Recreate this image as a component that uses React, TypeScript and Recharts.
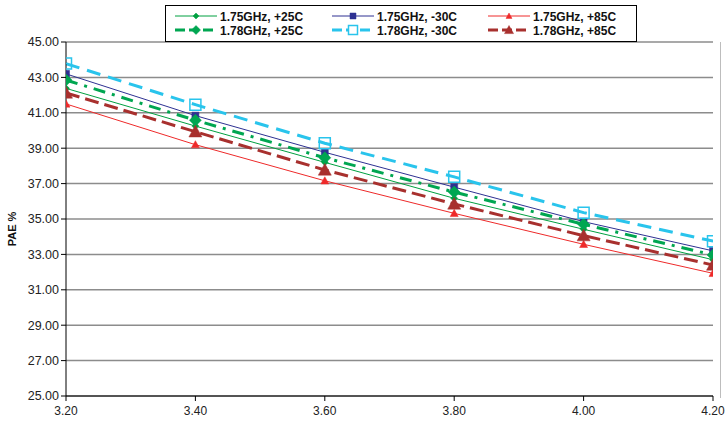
import React from "react";
import { LineChart, Line, XAxis, YAxis, CartesianGrid } from "recharts";

const vdd = [3.2, 3.4, 3.6, 3.8, 4.0, 4.2];
const s175p25 = [42.38, 40.25, 38.2, 36.17, 34.42, 32.7];
const s175m30 = [43.2, 40.84, 38.77, 36.8, 34.85, 33.2];
const s175p85 = [41.5, 39.2, 37.16, 35.32, 33.57, 31.93];
const s178p25 = [42.85, 40.58, 38.46, 36.52, 34.7, 32.97];
const s178m30 = [43.78, 41.46, 39.28, 37.38, 35.36, 33.75];
const s178p85 = [42.12, 39.93, 37.77, 35.85, 34.06, 32.4];
const xTicks = [3.2, 3.4, 3.6, 3.8, 4.0, 4.2];
const yTicks = [25, 27, 29, 31, 33, 35, 37, 39, 41, 43, 45];

const data = vdd.map((x, i) => ({
  x,
  a: s175p25[i],
  b: s175m30[i],
  c: s175p85[i],
  d: s178p25[i],
  e: s178m30[i],
  f: s178p85[i],
}));

type Mk = { shape: "diamond" | "square" | "triangle"; size: number; color: string; hollow?: boolean };

const markerPath = (shape: string, cx: number, cy: number, s: number) => {
  const h = s / 2;
  if (shape === "diamond") return `M${cx},${cy - h}L${cx + h},${cy}L${cx},${cy + h}L${cx - h},${cy}Z`;
  if (shape === "square") return `M${cx - h},${cy - h}L${cx + h},${cy - h}L${cx + h},${cy + h}L${cx - h},${cy + h}Z`;
  return `M${cx},${cy - h}L${cx + h},${cy + h * 0.8}L${cx - h},${cy + h * 0.8}Z`;
};

const makeDot = (m: Mk) => (props: any) => {
  const { cx, cy, index } = props;
  if (cx == null || cy == null) return <g key={index} />;
  return (
    <g key={index}>
      <path
        d={markerPath(m.shape, cx, cy, m.size)}
        fill={m.hollow ? "none" : m.color}
        stroke={m.color}
        strokeWidth={m.hollow ? 1.5 : 0.5}
      />
      {m.hollow ? <circle cx={cx} cy={cy} r={1} fill={m.color} /> : null}
    </g>
  );
};

const series = [
  { key: "a", name: "1.75GHz, +25C", color: "#00a040", width: 1, dash: undefined, mk: { shape: "diamond", size: 7, color: "#00a040" } },
  { key: "b", name: "1.75GHz, -30C", color: "#2e3192", width: 1, dash: undefined, mk: { shape: "square", size: 7, color: "#2e3192" } },
  { key: "c", name: "1.75GHz, +85C", color: "#ee2a2a", width: 1, dash: undefined, mk: { shape: "triangle", size: 8, color: "#ee2a2a" } },
  { key: "d", name: "1.78GHz, +25C", color: "#00a651", width: 3, dash: "12 7 3 7", mk: { shape: "diamond", size: 12, color: "#00a651" } },
  { key: "e", name: "1.78GHz, -30C", color: "#29c4ec", width: 3, dash: "14 8", mk: { shape: "square", size: 11, color: "#29c4ec", hollow: true } },
  { key: "f", name: "1.78GHz, +85C", color: "#a8302e", width: 3, dash: "14 6", mk: { shape: "triangle", size: 13, color: "#a8302e" } },
] as { key: string; name: string; color: string; width: number; dash?: string; mk: Mk }[];

const legendOrder = [0, 1, 2, 3, 4, 5];
const colX = [10, 167, 323];

const LegendBox = () => (
  <svg width={472} height={37} style={{ display: "block" }}>
    <rect x={0.5} y={0.5} width={471} height={36} fill="#fff" stroke="#000" strokeWidth={1} />
    {legendOrder.map((si, k) => {
      const s = series[si];
      const col = k % 3;
      const row = Math.floor(k / 3);
      const x0 = colX[col];
      const y = row === 0 ? 11 : 25;
      return (
        <g key={s.key}>
          <line x1={x0} x2={x0 + 42} y1={y} y2={y} stroke={s.color} strokeWidth={s.width} strokeDasharray={s.dash ? "10 4" : undefined} />
          <path
            d={markerPath(s.mk.shape, x0 + 21, y, s.width > 1 ? 9 : 6)}
            fill={s.mk.hollow ? "#fff" : s.color}
            stroke={s.color}
            strokeWidth={s.mk.hollow ? 1.5 : 0.5}
          />
          <text x={x0 + 45} y={y + 4.5} fontSize={12} fontWeight="bold" fontFamily="Liberation Sans, Arial, sans-serif" fill="#111">
            {s.name}
          </text>
        </g>
      );
    })}
  </svg>
);

export default function App() {
  return (
    <div style={{ position: "absolute", left: 0, top: 0, width: 725, height: 428, background: "#fff" }}>
      <LineChart width={725} height={428} data={data} margin={{ top: 42, right: 12, bottom: 12, left: 16 }}>
        <CartesianGrid horizontal vertical={false} stroke="#8c8c8c" strokeWidth={1.5} />
        <XAxis
          dataKey="x"
          type="number"
          domain={[3.2, 4.2]}
          ticks={xTicks}
          tickFormatter={(v: number) => v.toFixed(2)}
          height={20}
          tickSize={5}
          tickMargin={5}
          stroke="#000"
          tick={{ fill: "#222", fontSize: 12, fontFamily: "Liberation Sans, Arial, sans-serif" }}
          interval={0}
          allowDataOverflow
        />
        <YAxis
          type="number"
          domain={[25, 45]}
          ticks={yTicks}
          tickFormatter={(v: number) => v.toFixed(2)}
          width={50}
          tickSize={5}
          tickMargin={2}
          stroke="#000"
          tick={{ fill: "#222", fontSize: 12.5, fontFamily: "Liberation Sans, Arial, sans-serif" }}
          interval={0}
          allowDataOverflow
          label={{
            value: "PAE %",
            angle: -90,
            position: "insideLeft",
            dx: -9,
            dy: 10,
            style: { fontSize: 11, fontWeight: "bold", fill: "#111", fontFamily: "Liberation Sans, Arial, sans-serif", textAnchor: "middle" },
          }}
        />
        {series.map((s) => (
          <Line
            key={s.key}
            dataKey={s.key}
            name={s.name}
            stroke={s.color}
            strokeWidth={s.width}
            strokeDasharray={s.dash}
            dot={makeDot(s.mk)}
            activeDot={false}
            isAnimationActive={false}
            type="linear"
          />
        ))}
      </LineChart>
      <div style={{ position: "absolute", left: 165, top: 5 }}>
        <LegendBox />
      </div>
      <div style={{ position: "absolute", left: 720, top: 42, width: 1, height: 356, background: "#bdbdbd" }} />
    </div>
  );
}
